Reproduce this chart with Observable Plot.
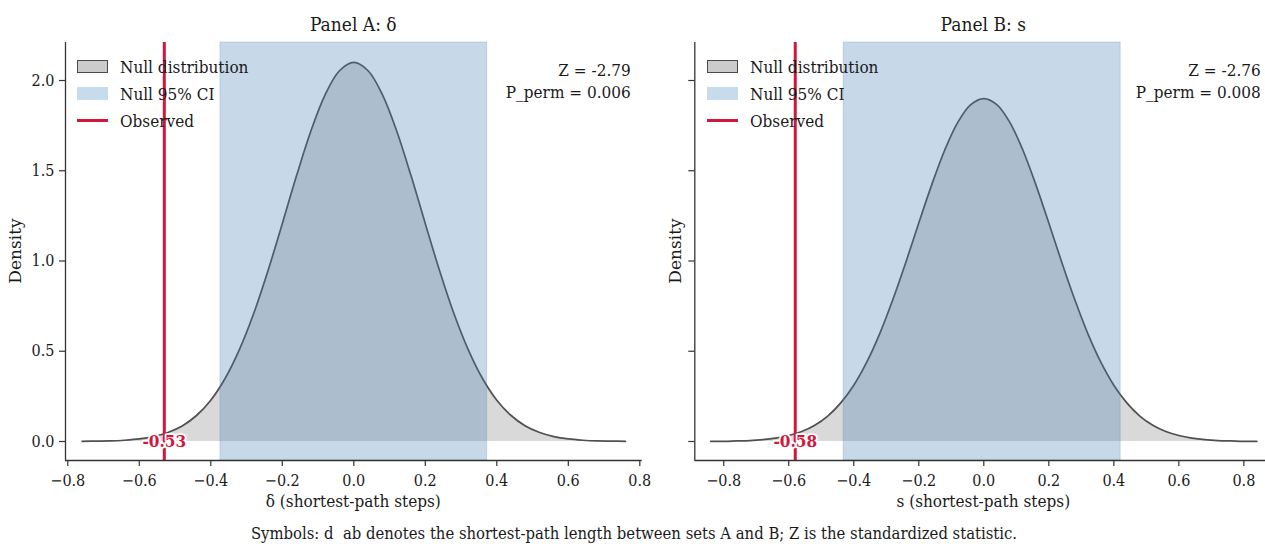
<!DOCTYPE html>
<html>
<head>
<meta charset="utf-8">
<script src="https://cdn.jsdelivr.net/npm/d3@7"></script>
<script src="https://cdn.jsdelivr.net/npm/@observablehq/plot@0.6"></script>
<style>
  html, body { margin: 0; padding: 0; background: #fff; }
  body { width: 1265px; height: 547px; overflow: hidden; position: relative;
         font-family: "DejaVu Serif Condensed", "DejaVu Serif", serif; font-stretch: condensed; color: #1a1a1a; }
  .abs { position: absolute; white-space: pre; line-height: 1; }
  .title { font-size: 19px; }
  .lab { font-size: 17px; }
  .ylab { font-size: 17px; font-family: "DejaVu Serif", serif; font-stretch: normal; }
  .leg { font-size: 17px; }
  .stat { font-size: 17px; text-align: right; }
  .cap { font-size: 16.5px; }
  .patch { position: absolute; box-sizing: border-box; }
  svg { max-width: none !important; }
</style>
</head>
<body>
<div id="panelA" class="abs" style="left:0;top:0;width:660px"></div>
<div id="panelB" class="abs" style="left:630px;top:0;width:643px"></div>
<div id="overlay"></div>
<script>
// ---------------- data ----------------
const panelTitles = ["Panel A: δ", "Panel B: s"];
const xLabels = ["δ (shortest-path steps)", "s (shortest-path steps)"];
const legendLabels = ["Null distribution", "Null 95% CI", "Observed"];
const statZ = ["Z = -2.79", "Z = -2.76"];
const statP = ["P_perm = 0.006", "P_perm = 0.008"];
const observed = [-0.53, -0.58];
const observedLabels = ["-0.53", "-0.58"];
const ciA = [-0.373, 0.373];
const ciB = [-0.431, 0.421];
const caption = "Symbols: d  ab denotes the shortest-path length between sets A and B; Z is the standardized statistic.";

const xTicks = [-0.8, -0.6, -0.4, -0.2, 0.0, 0.2, 0.4, 0.6, 0.8];
const yTicks = [0.0, 0.5, 1.0, 1.5, 2.0];

// null distribution density (Panel A: δ)
const nullAx = [-0.76,-0.72,-0.68,-0.64,-0.60,-0.56,-0.52,-0.48,-0.44,-0.40,-0.36,-0.32,-0.28,-0.24,-0.20,-0.16,-0.12,-0.08,-0.04,0.00,
                 0.04,0.08,0.12,0.16,0.20,0.24,0.28,0.32,0.36,0.40,0.44,0.48,0.52,0.56,0.60,0.64,0.68,0.72,0.76];
const nullAy = [0.001,0.002,0.003,0.007,0.014,0.027,0.050,0.086,0.144,0.229,0.349,0.509,0.709,0.946,1.207,1.473,1.720,1.922,2.054,2.100,
                 2.054,1.922,1.720,1.473,1.207,0.946,0.709,0.509,0.349,0.229,0.144,0.086,0.050,0.027,0.014,0.007,0.003,0.002,0.001];
// null distribution density (Panel B: s)
const nullBx = [-0.84,-0.80,-0.76,-0.72,-0.68,-0.64,-0.60,-0.56,-0.52,-0.48,-0.44,-0.40,-0.36,-0.32,-0.28,-0.24,-0.20,-0.16,-0.12,-0.08,-0.04,0.00,
                 0.04,0.08,0.12,0.16,0.20,0.24,0.28,0.32,0.36,0.40,0.44,0.48,0.52,0.56,0.60,0.64,0.68,0.72,0.76,0.80,0.84];
const nullBy = [0.001,0.001,0.003,0.005,0.010,0.019,0.033,0.055,0.090,0.141,0.214,0.312,0.440,0.598,0.785,0.992,1.210,1.423,1.615,1.768,1.866,1.900,
                 1.866,1.768,1.615,1.423,1.210,0.992,0.785,0.598,0.440,0.312,0.214,0.141,0.090,0.055,0.033,0.019,0.010,0.005,0.003,0.001,0.001];

// ---------------- style ----------------
const C = {
  fill: "#d9d9d9", line: "#505050", ci: "#4682b4", obs: "#d4163c", axis: "#333"
};
const fontFam = '"DejaVu Serif Condensed", "DejaVu Serif", serif';
const yDomain = [-0.1053, 2.2105];

function panel({xs, ys, ci, obs, obsLabel, xDomain, width, mLeft, mRight, showYLabels}) {
  const data = xs.map((x, i) => ({x, y: ys[i]}));
  return Plot.plot({
    width, height: 510,
    marginLeft: mLeft, marginRight: mRight, marginTop: 42, marginBottom: 50,
    x: {domain: xDomain},
    y: {domain: yDomain},
    style: {fontFamily: fontFam, fontSize: "16px", background: "transparent", overflow: "visible",
            fontStretch: "condensed", color: "#1a1a1a", maxWidth: "none"},
    marks: [
      Plot.areaY(data, {x: "x", y: "y", fill: C.fill, curve: "catmull-rom"}),
      Plot.lineY(data, {x: "x", y: "y", stroke: C.line, strokeWidth: 1.7, curve: "catmull-rom"}),
      Plot.rect([{lo: ci[0], hi: ci[1]}], {x1: "lo", x2: "hi", fill: C.ci, fillOpacity: 0.3, stroke: C.ci, strokeOpacity: 0.25, strokeWidth: 1}),
      Plot.ruleX([obs], {stroke: C.obs, strokeWidth: 3}),
      Plot.text([{x: obs, y: 0, t: obsLabel}], {x: "x", y: "y", text: "t", fill: C.obs, fontWeight: "bold", fontSize: 17,
                 stroke: "white", strokeWidth: 3.5, textAnchor: "middle"}),
      Plot.axisX({ticks: xTicks, tickFormat: d3.format(".1f"), tickSize: 6, tickPadding: 8, label: null, stroke: C.axis, strokeWidth: 1.2}),
      Plot.axisY({ticks: yTicks, tickFormat: showYLabels ? d3.format(".1f") : () => "", tickSize: 6, tickPadding: 5, label: null, stroke: C.axis, strokeWidth: 1.2}),
      Plot.ruleY([yDomain[0]], {stroke: C.axis, strokeWidth: 1.3}),
      Plot.ruleX([xDomain[0]], {stroke: C.axis, strokeWidth: 1.3})
    ]
  });
}

document.getElementById("panelA").appendChild(panel({
  xs: nullAx, ys: nullAy, ci: ciA, obs: observed[0], obsLabel: observedLabels[0],
  xDomain: [-0.8064, 0.8067], width: 660, mLeft: 65, mRight: 18.3, showYLabels: true
}));
document.getElementById("panelB").appendChild(panel({
  xs: nullBx, ys: nullBy, ci: ciB, obs: observed[1], obsLabel: observedLabels[1],
  xDomain: [-0.889, 0.889], width: 643, mLeft: 64.3, mRight: 0.7, showYLabels: false
}));

// ---------------- html text overlays ----------------
const ov = document.getElementById("overlay");
function addText(cls, text, left, baseline, anchor, size) {
  const d = document.createElement("div");
  d.className = "abs " + cls;
  d.textContent = text;
  const top = baseline - size * 0.85;
  d.style.top = top + "px";
  if (anchor === "middle") { d.style.left = left + "px"; d.style.transform = "translateX(-50%)"; }
  else if (anchor === "end") { d.style.right = (1265 - left) + "px"; }
  else d.style.left = left + "px";
  ov.appendChild(d);
  return d;
}
function patch(left, top, w, h, styles) {
  const p = document.createElement("div");
  p.className = "patch";
  Object.assign(p.style, {left: left + "px", top: top + "px", width: w + "px", height: h + "px"}, styles);
  ov.appendChild(p);
}

const panels = [
  {center: 353.3, legX: 77, statR: 630.7, yLabX: 15},
  {center: 983.3, legX: 707, statR: 1260.7, yLabX: 675}
];
panels.forEach((p, i) => {
  addText("title", panelTitles[i], p.center, 31.5, "middle", 19);
  addText("lab", xLabels[i], p.center, 507, "middle", 17);
  addText("stat", statZ[i], p.statR, 76, "end", 17);
  addText("stat", statP[i], p.statR, 98.5, "end", 17);
  // legend
  patch(p.legX, 60, 31, 13, {background: "#cbcbcb", border: "1.5px solid #4a4a4a"});
  patch(p.legX, 87, 31, 13, {background: "#c6dbec"});
  patch(p.legX, 118.5, 31, 3, {background: C.obs});
  addText("leg", legendLabels[0], p.legX + 43, 73, "start", 17);
  addText("leg", legendLabels[1], p.legX + 43, 100, "start", 17);
  addText("leg", legendLabels[2], p.legX + 43, 127, "start", 17);
  // y label
  const d = document.createElement("div");
  d.className = "abs ylab";
  d.textContent = "Density";
  Object.assign(d.style, {left: p.yLabX + "px", top: "251px", transform: "translate(-50%,-50%) rotate(-90deg)"});
  ov.appendChild(d);
});
addText("cap", caption, 634, 540, "middle", 16.5);
</script>
</body>
</html>
